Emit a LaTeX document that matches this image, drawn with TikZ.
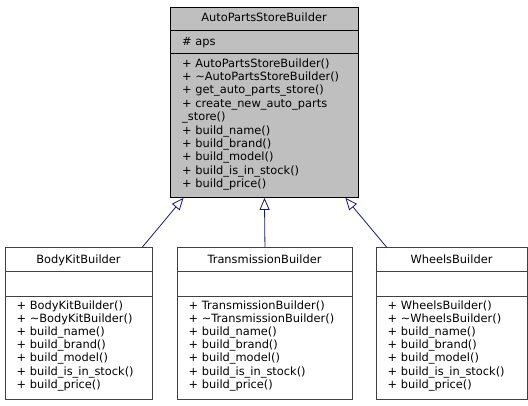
\documentclass[tikz,border=0pt]{standalone}
\usepackage{fontspec}
\setmainfont{DejaVu Sans}
\usetikzlibrary{arrows.meta}
\definecolor{edgeblue}{HTML}{191970}
\definecolor{graysev}{HTML}{BFBFBF}
\definecolor{grayforty}{HTML}{404040}
\tikzset{
  cls/.style={draw=grayforty, line width=0.9pt, fill=white, inner sep=0, anchor=north west},
  clsmain/.style={cls, draw=black, fill=graysev},
  sepline/.style={line width=0.9pt},
  txt/.style={inner sep=0, anchor=base west, font=\fontsize{11.4}{13}\selectfont},
  ttl/.style={inner sep=0, anchor=base, font=\fontsize{11.4}{13}\selectfont},
  inh/.style={draw=edgeblue, line width=0.8pt, -{Triangle[open, length=12pt, width=10pt, fill=white]}}
}
\begin{document}
\begin{tikzpicture}[x=1pt,y=-1pt]
\useasboundingbox (0,0) rectangle (528,405);
% main class
\node[clsmain, minimum width=188pt, minimum height=190pt] (top) at (170,7) {};
\draw[sepline] (170,30) -- (358,30);
\draw[sepline] (170,53) -- (358,53);
\node[ttl] (toptitle) at (264,21.5) {AutoPartsStoreBuilder};
\node[txt] (topattr) at (182,45.5) {\# aps};
\foreach \t [count=\i] in {+ AutoPartsStoreBuilder(), + \textasciitilde AutoPartsStoreBuilder(), + get\_auto\_parts\_store(), + create\_new\_auto\_parts, \_store(), + build\_name(), + build\_brand(), + build\_model(), + build\_is\_in\_stock(), + build\_price()}
  \node[txt] (tm\i) at (182,{67+13.4*(\i-1)}) {\t};
% subclasses
\foreach \nm/\lbl/\xl/\w in {bk/BodyKitBuilder/5/147, tr/TransmissionBuilder/177/175, wh/WheelsBuilder/376/151}{
  \node[cls, minimum width=\w pt, minimum height=152pt] (\nm) at (\xl,247) {};
  \draw[sepline, grayforty] (\xl,271) -- ({\xl+\w},271);
  \draw[sepline, grayforty] (\xl,296) -- ({\xl+\w},296);
  \node[ttl] (\nm title) at ({\xl+\w/2},263.5) {\lbl};
  \foreach \t [count=\i] in {+ \lbl(), + \textasciitilde\lbl(), + build\_name(), + build\_brand(), + build\_model(), + build\_is\_in\_stock(), + build\_price()}
    \node[txt] (\nm m\i) at ({\xl+11.5},{309.5+13.1*(\i-1)}) {\t};
}
% inheritance
\draw[inh] ([xshift=63.5pt]bk.north) -- ([xshift=-81pt]top.south);
\draw[inh] (tr.north) -- (top.south);
\draw[inh] ([xshift=-65.5pt]wh.north) -- ([xshift=81pt]top.south);
\end{tikzpicture}
\end{document}
